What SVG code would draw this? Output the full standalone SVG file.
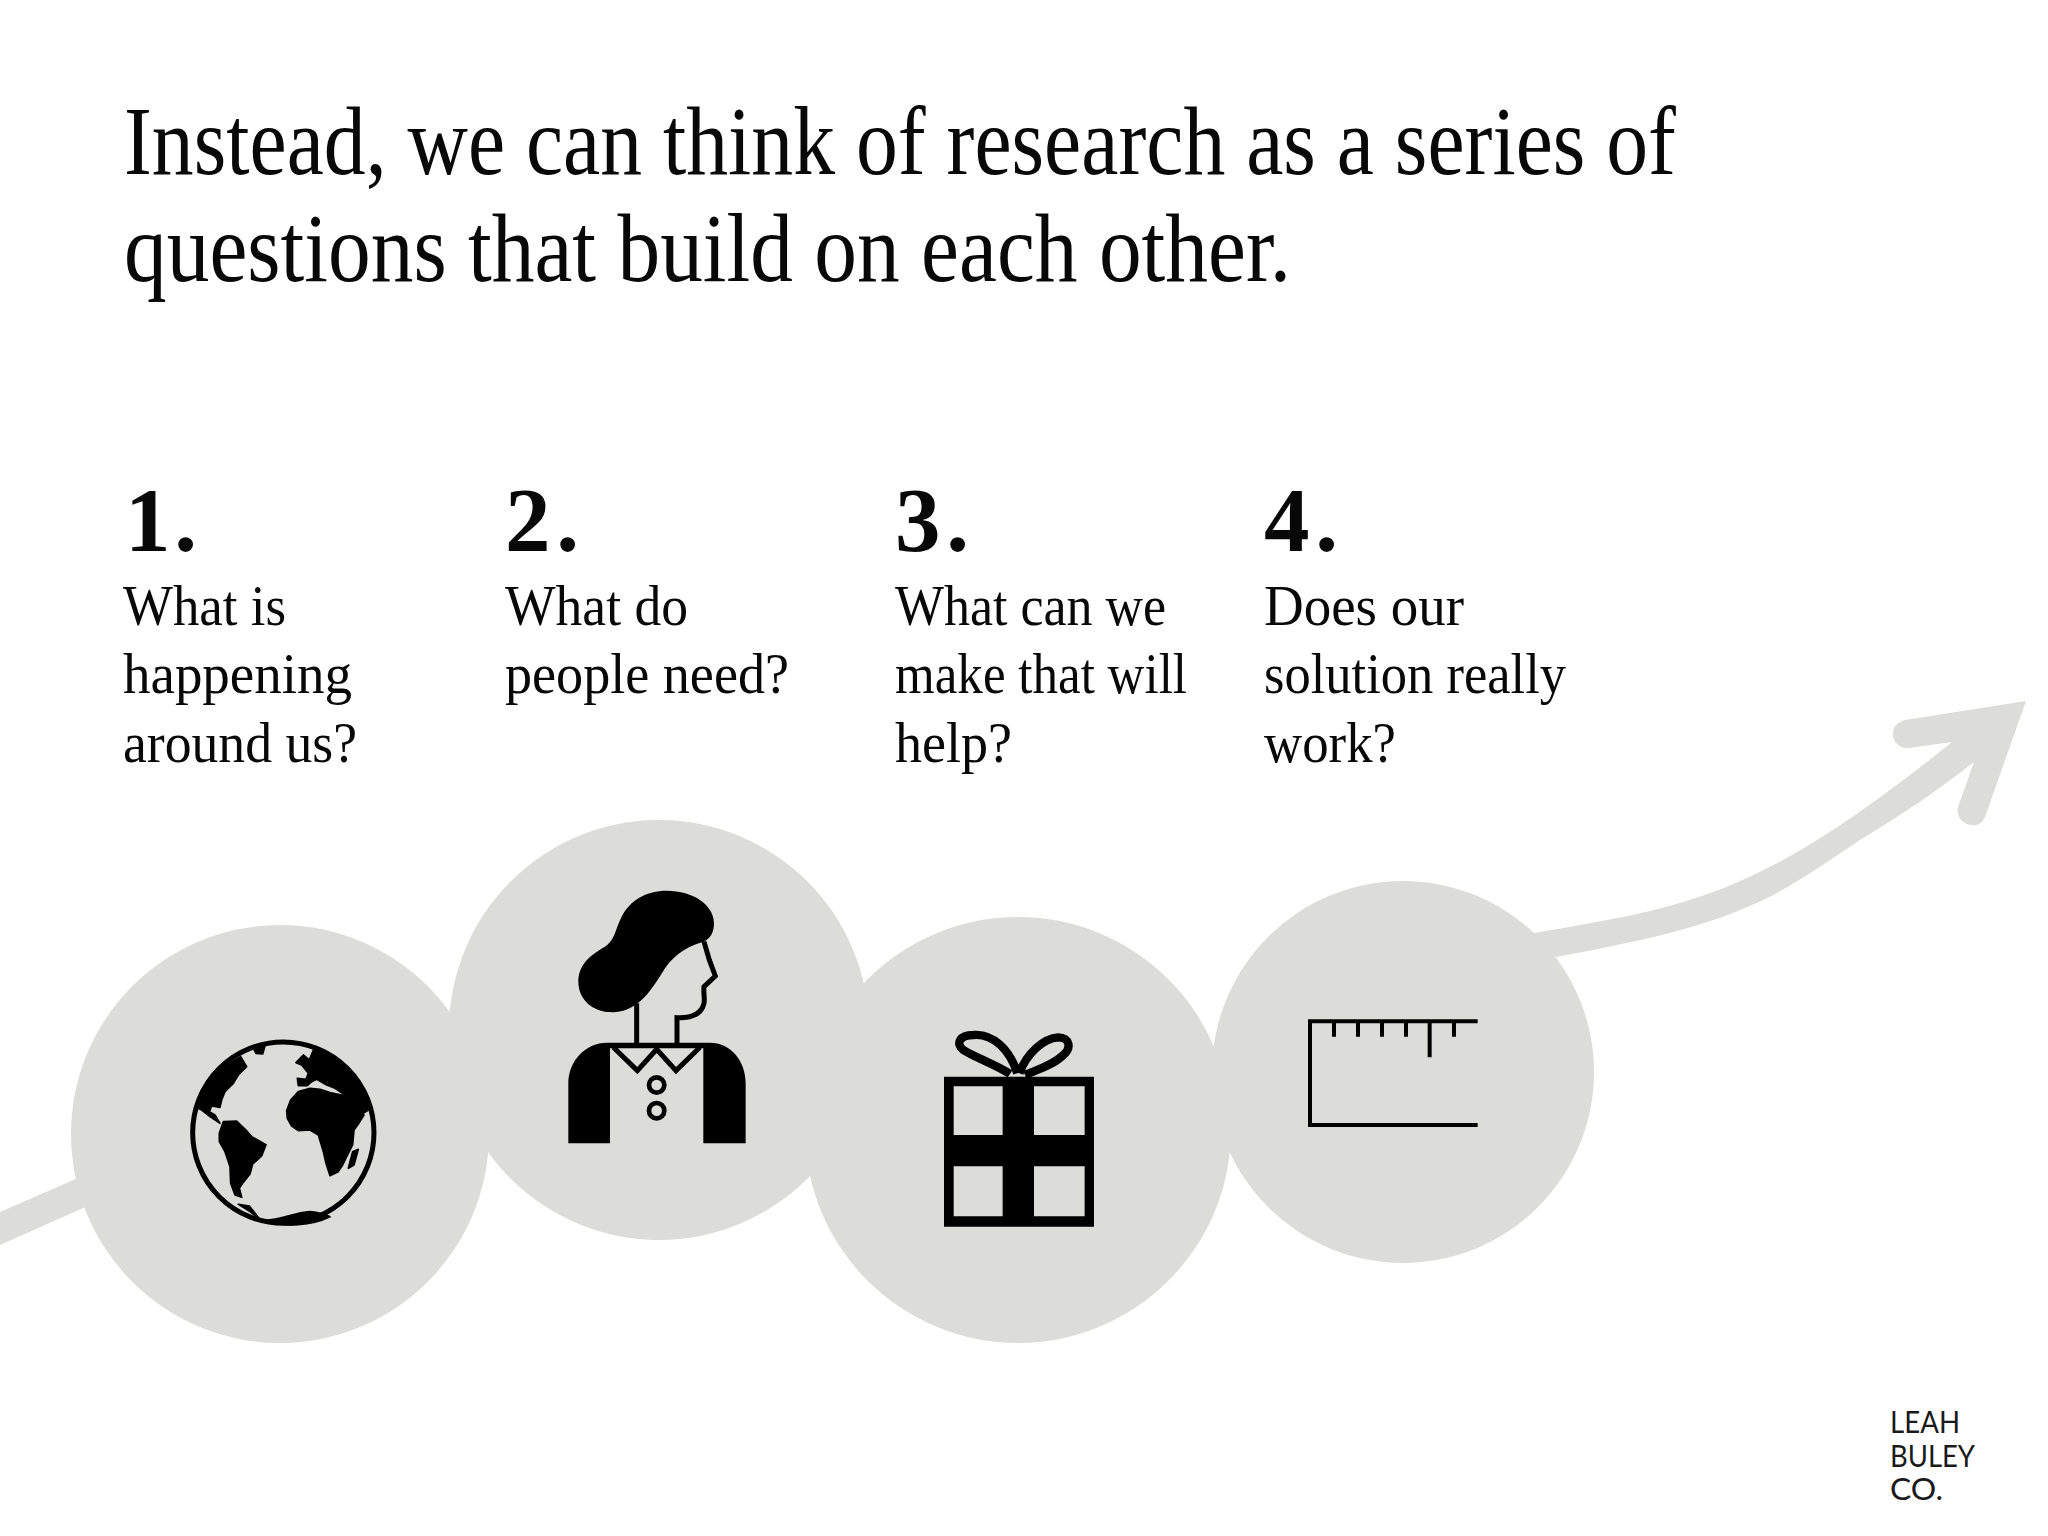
<svg xmlns="http://www.w3.org/2000/svg" width="2048" height="1536" viewBox="0 0 2048 1536">
<style>
.bg{fill:#dcddd8}
.serif{font-family:"Liberation Serif","Times New Roman",serif;fill:#080808}
.title{font-size:98px}
.num{font-size:91px;font-weight:bold}
.body{font-size:58px}
.logo{font-family:"Lato","Noto Sans",sans-serif;font-size:31px;fill:#1a1a1a}
.ink{fill:#000;stroke:#000;stroke-width:5;stroke-linejoin:round}
.solid{fill:#000}
.line{fill:none;stroke:#000}
</style>
<rect width="2048" height="1536" fill="#fff"/>
<g id="title" class="serif title">
<text x="124" y="174" textLength="1552" lengthAdjust="spacingAndGlyphs">Instead, we can think of research as a series of</text>
<text x="124" y="281" textLength="1167" lengthAdjust="spacingAndGlyphs">questions that build on each other.</text>
</g>
<g id="connectors">
<path class="bg" d="M0 1212L78 1178L90 1205L0 1245Z"/>
<path class="bg" d="M1530 934C1600 921 1670 912 1738 882C1775 866 1805 848 1836 828C1875 802 1915 772 1952 742L1909 748C1899 749 1893 742 1893 734C1893 726 1898 722 1905 720L2026 701L1985 817C1981 825 1975 826 1971 825C1962 824 1956 816 1958 807L1974 762C1936 792 1898 817 1860 840C1836 856 1805 878 1773 895C1710 928 1630 943 1556 957Z"/>
</g>
<g id="step1">
<circle class="bg" cx="280" cy="1134" r="209"/>
<g transform="translate(170 1020) scale(.3333)">
<circle class="line" cx="340" cy="338" r="272" stroke-width="15"/>
<path class="ink" d="M78 262C95 205 135 150 212 110L230 140L205 165L190 190L165 215L155 240L150 262L125 258L118 275L135 285L150 310L120 290L95 270Z"/>
<path class="ink" d="M250 85L285 78L278 102L258 100Z"/>
<path class="ink" d="M160 305L200 303L228 330L245 350L288 374L275 408L248 432L240 462L218 490L208 505L215 532L195 525L182 490L180 440L165 395L148 365L148 340Z"/>
<path class="ink" d="M350 272L362 240L385 215L420 205L450 208L480 218L530 228L560 258L582 285L565 312L552 330L548 375L535 400L518 435L505 455L480 467L468 430L460 395L445 345L420 330L385 332L365 318L352 295Z"/>
<path class="ink" d="M378 128L400 105L418 120L430 90L475 110C520 135 570 190 603 265L580 280L560 262L545 250L525 225L495 205L470 195L440 178L425 185L412 197L385 197L382 175L408 178L415 160L395 135Z"/>
<path class="ink" d="M548 395L565 388L552 435L535 445Z"/>
<path class="ink" d="M205 553L238 558L268 596L240 575Z"/>
<path class="ink" d="M280 600C320 605 370 578 420 575C450 578 470 585 480 590C430 615 340 625 280 600Z"/>
</g>
</g>
<g id="step2">
<circle class="bg" cx="659" cy="1030" r="210"/>
<g transform="translate(550 870) scale(.3333)">
<path class="solid" d="M350 62C430 62 492 105 492 160C492 190 480 205 462 215C420 225 375 250 345 295C320 335 290 385 255 405C225 425 200 428 180 426C130 425 85 390 85 335C85 285 120 255 165 230C195 210 195 180 215 140C240 90 290 62 350 62Z"/>
<path class="line" stroke-width="15" d="M462 215L478 270L496 318L462 350C460 370 465 385 462 400C455 430 430 445 381 443L381 525M260 400L260 525"/>
<path class="solid" d="M55 820L55 640C55 570 110 518 170 518L480 518C540 518 587 570 587 640L587 820L460 820L460 535L180 535L180 820Z"/>
<path class="line" stroke-width="15" d="M190 532L262 602L320 538L378 602L450 532"/>
<circle class="line" cx="320" cy="645" r="23" stroke-width="14"/>
<circle class="line" cx="320" cy="722" r="23" stroke-width="14"/>
</g>
</g>
<g id="step3">
<circle class="bg" cx="1018" cy="1130" r="213"/>
<g transform="translate(930 1010) scale(.3333)">
<path class="solid" fill-rule="evenodd" d="M42 200H492V650H42ZM71 229V375H218V229ZM312 229V375H464V229ZM71 469V619H218V469ZM312 469V619H464V469Z"/>
<path class="line" stroke-width="25" d="M240 192C200 165 130 140 100 120C75 100 90 75 130 75C190 70 240 120 262 190M268 190C290 130 340 85 385 82C420 82 425 115 400 135C370 165 320 180 285 195"/>
</g>
</g>
<g id="step4">
<circle class="bg" cx="1403" cy="1072" r="191"/>
<g transform="translate(1290 1000) scale(.3333)">
<path class="line" stroke-width="12" d="M563 64H60V375H563M132 64V110M204 64V110M276 64V110M348 64V110M492 64V110M419 64V172"/>
</g>
</g>
<g id="labels" class="serif">
<g class="num">
<text x="125" y="551" textLength="72">1.</text>
<text x="505" y="551" textLength="74">2.</text>
<text x="895" y="551" textLength="74">3.</text>
<text x="1264" y="551" textLength="74">4.</text>
</g>
<g class="body">
<text x="123" y="625" textLength="163" lengthAdjust="spacingAndGlyphs">What is</text>
<text x="123" y="693" textLength="229" lengthAdjust="spacingAndGlyphs">happening</text>
<text x="123" y="762" textLength="234" lengthAdjust="spacingAndGlyphs">around us?</text>
<text x="505" y="625" textLength="183" lengthAdjust="spacingAndGlyphs">What do</text>
<text x="505" y="693" textLength="284" lengthAdjust="spacingAndGlyphs">people need?</text>
<text x="895" y="625" textLength="271" lengthAdjust="spacingAndGlyphs">What can we</text>
<text x="895" y="693" textLength="292" lengthAdjust="spacingAndGlyphs">make that will</text>
<text x="895" y="762" textLength="117" lengthAdjust="spacingAndGlyphs">help?</text>
<text x="1264" y="625" textLength="200" lengthAdjust="spacingAndGlyphs">Does our</text>
<text x="1264" y="693" textLength="302" lengthAdjust="spacingAndGlyphs">solution really</text>
<text x="1264" y="762" textLength="132" lengthAdjust="spacingAndGlyphs">work?</text>
</g>
</g>
<g id="logo" class="logo">
<text x="1890" y="1433" textLength="70" lengthAdjust="spacingAndGlyphs">LEAH</text>
<text x="1890" y="1467" textLength="85" lengthAdjust="spacingAndGlyphs">BULEY</text>
<text x="1890" y="1500" textLength="53" lengthAdjust="spacingAndGlyphs">CO.</text>
</g>
</svg>
